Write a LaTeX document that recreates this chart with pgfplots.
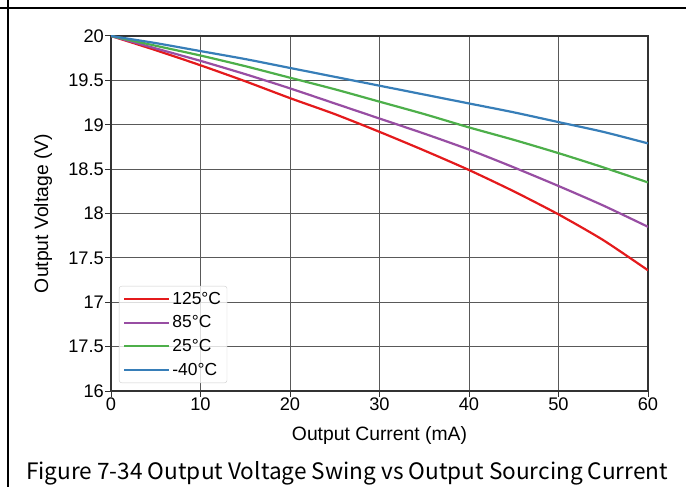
\documentclass[border=0pt]{standalone}
\usepackage{pgfplots}
\pgfplotsset{compat=1.18}
\usepackage{fontspec}
\setmainfont{Liberation Sans}
\newfontfamily\capfont{Noto Sans CJK SC}
\definecolor{cRed}{HTML}{E41A1C}
\definecolor{cPurple}{HTML}{984EA3}
\definecolor{cGreen}{HTML}{4DAF4A}
\definecolor{cBlue}{HTML}{377EB8}
\begin{document}
\begin{tikzpicture}
\useasboundingbox (0,0) rectangle (686bp,487bp);
\draw[line width=2bp] (0,479bp) -- (686bp,479bp);
\draw[line width=2bp] (8.3bp,0) -- (8.3bp,487bp);
\begin{axis}[
  at={(111bp,96bp)}, anchor=south west,
  scale only axis, width=537bp, height=355bp,
  xmin=0, xmax=60, ymin=16, ymax=20,
  xtick={0,10,...,60},
  ytick={16,16.5,17,17.5,18,18.5,19,19.5,20},
  yticklabels={16,17.5,17,17.5,18,18.5,19,19.5,20},
  /pgf/number format/assume math mode=true,
  tick label style={font=\fontsize{18.3}{19}\selectfont},
  xticklabel style={inner sep=1bp},
  yticklabel style={inner sep=1bp},
  tick align=outside,
  major tick length=6bp,
  tick style={black!80, line width=1bp},
  xtick pos=bottom, ytick pos=left,
  grid=major,
  major grid style={black!65, line width=1bp},
  axis line style={black!80, line width=1.2bp},
  label style={font=\fontsize{19.4}{20}\selectfont},
  xlabel={Output Current (mA)},
  ylabel={Output Voltage (V)},
  xlabel style={at={(axis description cs:0.5,0)}, anchor=base, yshift=-49bp},
  ylabel style={at={(axis description cs:-0.1266,0.5)}, anchor=center},
  legend style={at={(axis description cs:0.0149,0.0225)}, anchor=south west,
    font=\fontsize{17.5}{18}\selectfont, draw=black!20, rounded corners=2.5bp,
    fill=white, fill opacity=0.8, text opacity=1, inner sep=4bp,
    row sep=6bp, nodes={inner sep=2bp}},
  legend cell align=left,
  legend image code/.code={\draw[#1] (0bp,0bp) -- (35bp,0bp); \path (0bp,0bp) -- (45bp,0bp);},
  every axis plot/.append style={line width=2.2bp, smooth, tension=0.4},
]
\addplot[cRed] coordinates {(0,20) (5,19.84) (10,19.67) (15,19.49) (20,19.30) (25,19.12) (30,18.92) (35,18.71) (40,18.49) (45,18.25) (50,17.99) (55,17.70) (60,17.36)};
\addlegendentry{125°C}
\addplot[cPurple] coordinates {(0,20) (5,19.86) (10,19.72) (15,19.57) (20,19.41) (25,19.24) (30,19.07) (35,18.90) (40,18.72) (45,18.52) (50,18.31) (55,18.09) (60,17.85)};
\addlegendentry{85°C}
\addplot[cGreen] coordinates {(0,20) (5,19.89) (10,19.78) (15,19.66) (20,19.53) (25,19.40) (30,19.26) (35,19.12) (40,18.97) (45,18.83) (50,18.68) (55,18.52) (60,18.35)};
\addlegendentry{25°C}
\addplot[cBlue] coordinates {(0,20) (5,19.92) (10,19.83) (15,19.74) (20,19.64) (25,19.54) (30,19.44) (35,19.34) (40,19.24) (45,19.14) (50,19.03) (55,18.92) (60,18.79)};
\addlegendentry{-40°C}
\end{axis}
\node[anchor=base, inner sep=0pt, font=\capfont\fontsize{22.7}{24}\selectfont] at (347bp,8bp) {Figure 7-34 Output Voltage Swing vs Output Sourcing Current};
\end{tikzpicture}
\end{document}
